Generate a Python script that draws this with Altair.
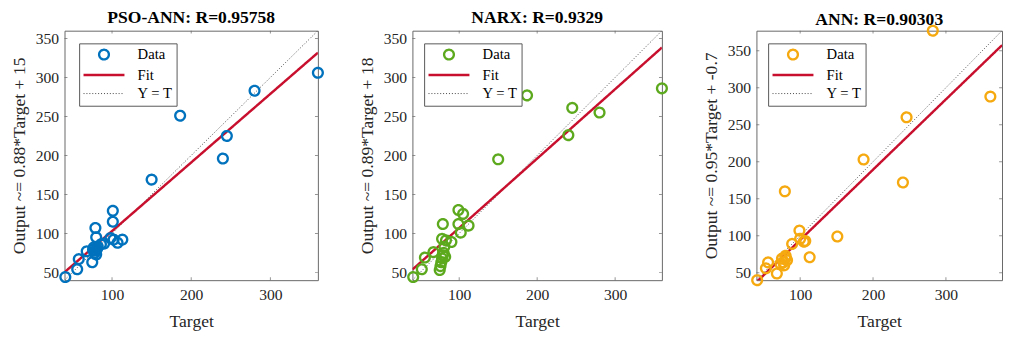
import altair as alt
import pandas as pd

SERIES = ["Data", "Fit", "Y = T"]
FIT_RED = "#c8102e"
DOT_GRAY = "#444444"
BOX = "#666666"
FONT = "Liberation Serif"
LINE_SYMBOL = "M-4.2,0H4.2"

x_ticks = [100, 200, 300]
y_ticks = [50, 100, 150, 200, 250, 300, 350]

# ---- PSO-ANN ----
pso_title = "PSO-ANN: R=0.95758"
pso_ytitle = "Output ~= 0.88*Target + 15"
pso_target = [41, 56, 58, 68, 75, 76, 77, 78, 79, 80, 81, 79, 80, 82, 86, 90, 98, 101, 101, 102, 107, 113, 150, 186, 240, 245, 280, 360]
pso_output = [44, 54, 67, 77, 63, 79, 82, 75, 78, 73, 80, 107, 95, 83, 86, 87, 94, 129, 115, 92, 88, 92, 169, 251, 196, 225, 283, 306]
pso_fit_target = [40, 360]
pso_fit_output = [50.2, 331.8]
pso_id = [40, 360]

# ---- NARX ----
narx_title = "NARX: R=0.9329"
narx_ytitle = "Output ~= 0.89*Target + 18"
narx_target = [41, 52, 56, 67, 75, 76, 77, 78, 79, 80, 82, 78, 79, 81, 83, 90, 99, 105, 99, 102, 112, 150, 187, 240, 245, 280, 360]
narx_output = [44, 54, 69, 76, 53, 58, 63, 68, 72, 75, 70, 93, 112, 83, 91, 89, 130, 125, 112, 101, 110, 195, 277, 226, 261, 255, 286]
narx_fit_target = [40, 360]
narx_fit_output = [53.6, 338.4]
narx_id = [40, 360]

# ---- ANN ----
ann_title = "ANN: R=0.90303"
ann_ytitle = "Output ~= 0.95*Target + -0.7"
ann_target = [41, 53, 56, 68, 73, 75, 77, 78, 80, 80, 82, 79, 89, 99, 100, 105, 107, 113, 151, 187, 241, 246, 282, 361]
ann_output = [40, 56, 64, 49, 62, 69, 64, 60, 73, 70, 67, 160, 89, 107, 96, 92, 93, 71, 99, 203, 172, 260, 377, 288]
ann_fit_target = [40, 377]
ann_fit_output = [37.3, 357.4]
ann_id = [40, 377]


def panel(title, ytitle, color, tgt, out, fit_t, fit_o, ident, dom, w, h, lx, ly, toff):
    pts = pd.DataFrame({"Target": tgt, "Output": out, "Series": "Data"})
    fit = pd.DataFrame({"Target": fit_t, "Output": fit_o, "Series": "Fit"})
    idl = pd.DataFrame({"Target": ident, "Output": ident, "Series": "Y = T"})
    xt = pd.DataFrame({"Target": x_ticks})
    yt = pd.DataFrame({"Output": y_ticks})
    leg = alt.Legend(orient="none", legendX=lx, legendY=ly, title=None)
    x = alt.X("Target:Q", scale=alt.Scale(domain=dom, nice=False, zero=False),
              axis=alt.Axis(values=x_ticks, title="Target", labelPadding=7, titlePadding=11))
    y = alt.Y("Output:Q", scale=alt.Scale(domain=dom, nice=False, zero=False),
              axis=alt.Axis(values=y_ticks, title=ytitle, labelPadding=6, titlePadding=7))
    stroke = alt.Stroke("Series:N", scale=alt.Scale(domain=SERIES, range=[color, FIT_RED, DOT_GRAY]), legend=leg)
    sw = alt.StrokeWidth("Series:N", scale=alt.Scale(type="ordinal", domain=SERIES, range=[2.4, 2.5, 1]), legend=leg)
    dash = alt.StrokeDash("Series:N", scale=alt.Scale(domain=SERIES, range=[[1, 0], [1, 0], [1, 2]]), legend=leg)
    shape = alt.Shape("Series:N", scale=alt.Scale(domain=SERIES, range=["circle", LINE_SYMBOL, LINE_SYMBOL]),
                      legend=leg)

    tick = dict(color=BOX, thickness=1, size=6, clip=True)
    t_bot = alt.Chart(xt).mark_tick(orient="vertical", **tick).encode(x=x, y=alt.value(h))
    t_top = alt.Chart(xt).mark_tick(orient="vertical", **tick).encode(x=x, y=alt.value(0))
    t_lef = alt.Chart(yt).mark_tick(orient="horizontal", **tick).encode(y=y, x=alt.value(0))
    t_rig = alt.Chart(yt).mark_tick(orient="horizontal", **tick).encode(y=y, x=alt.value(w))

    p = alt.Chart(pts).mark_point(filled=False, opacity=1, size=100).encode(
        x=x, y=y, stroke=stroke, strokeWidth=sw, shape=shape, strokeDash=dash)
    f = alt.Chart(fit).mark_line(clip=True).encode(x=x, y=y, stroke=stroke, strokeWidth=sw, strokeDash=dash)
    i = alt.Chart(idl).mark_line(clip=True).encode(x=x, y=y, stroke=stroke, strokeWidth=sw, strokeDash=dash)
    return alt.layer(t_bot, t_top, t_lef, t_rig, i, f, p).properties(
        width=w, height=h,
        title=alt.TitleParams(title, font=FONT, fontSize=18, fontWeight="bold",
                              anchor="middle", offset=toff, color="black"))


p1 = panel(pso_title, pso_ytitle, "#0072BD", pso_target, pso_output, pso_fit_target, pso_fit_output,
           pso_id, [40, 360], 260, 256, 15, 13, 3.5)
p2 = panel(narx_title, narx_ytitle, "#5DA91E", narx_target, narx_output, narx_fit_target, narx_fit_output,
           narx_id, [40, 360], 256, 256, 12, 13, 4)
p3 = panel(ann_title, ann_ytitle, "#F5A90F", ann_target, ann_output, ann_fit_target, ann_fit_output,
           ann_id, [40, 377], 252, 256, 12, 13, -8)

chart = alt.hconcat(p1, p2, p3, spacing=97, bounds="flush").resolve_scale(
    stroke="independent", strokeWidth="independent", strokeDash="independent",
    shape="independent", x="independent", y="independent"
).resolve_legend(
    stroke="independent", strokeWidth="independent", strokeDash="independent",
    shape="independent"
).properties(
    background="white", padding={"left": 2, "top": -4, "right": 0, "bottom": 0}
).configure_view(stroke=BOX, strokeWidth=1).configure_axis(
    labelFont=FONT, labelFontSize=16, labelColor="#262626",
    titleFont=FONT, titleFontSize=18, titleFontWeight="normal", titleColor="#262626",
    ticks=False, domain=False, grid=False,
).configure_legend(
    labelFont=FONT, labelFontSize=15, labelColor="black", padding=4,
    strokeColor="#555555", fillColor="white", rowPadding=3, symbolSize=100,
    symbolOffset=14, labelOffset=27, cornerRadius=0,
)

chart.save("out.html", embed_options={"renderer": "svg", "actions": False})
